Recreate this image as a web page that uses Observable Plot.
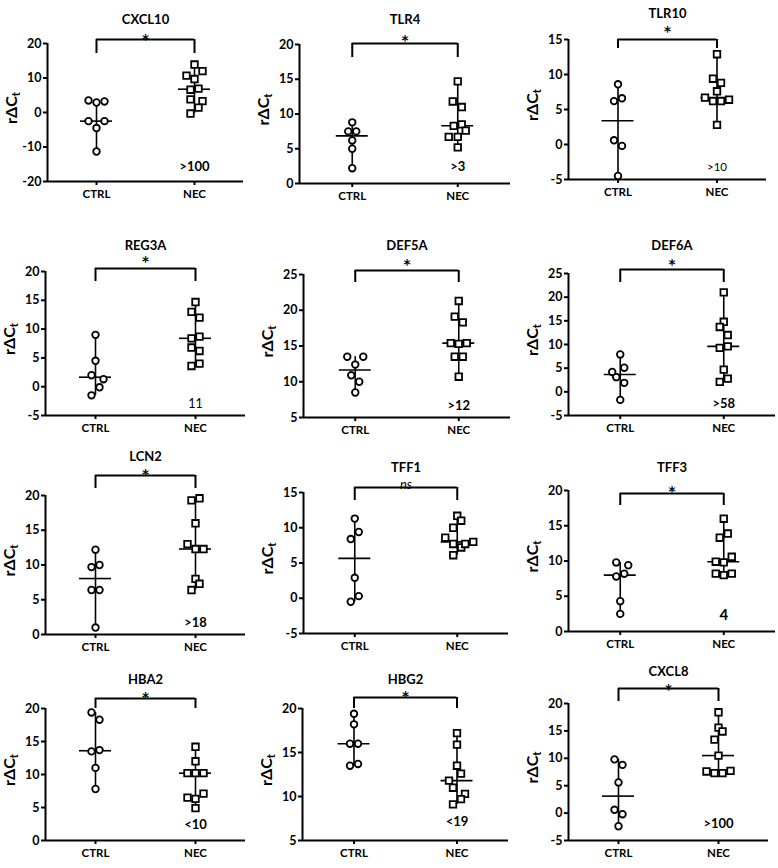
<!DOCTYPE html>
<html><head><meta charset="utf-8">
<script src="https://cdn.jsdelivr.net/npm/d3@7"></script>
<script src="https://cdn.jsdelivr.net/npm/@observablehq/plot@0.6"></script>
<style>
body{margin:0;background:#fff;}
#chart{position:relative;width:778px;height:868px;overflow:hidden;background:#fff;}
.panel{position:absolute;}
</style></head>
<body><div id="chart"></div>
<script>
// ---------- data ----------
const genes = ["CXCL10","TLR4","TLR10","REG3A","DEF5A","DEF6A","LCN2","TFF1","TFF3","HBA2","HBG2","CXCL8"];
const groups = ["CTRL","NEC"];
const ctrlValues = [
  [3.5,2.9,3.2,-2.5,-2.5,-4.5,-11.3],
  [8.8,7.5,7.5,6.2,5.0,2.2],
  [8.6,6.2,6.6,0.6,-0.2,-4.5],
  [9.0,4.5,2.0,1.3,-0.1,-1.5],
  [13.5,13.5,12.4,10.9,10.0,8.5],
  [7.9,4.2,5.1,3.1,1.9,-1.7],
  [12.2,9.7,10.0,6.4,6.4,1.0],
  [11.3,8.4,9.4,2.9,-0.5,0.3],
  [9.8,9.4,8.2,7.8,4.3,2.5],
  [19.4,18.3,13.5,13.7,11.0,7.8],
  [19.4,18.2,16.0,16.0,13.5,13.7],
  [9.8,8.8,5.6,0.6,-0.2,-2.4]
];
// horizontal scatter lane of each point (as drawn in the figure)
const ctrlJitter = [
  [-8,0,8,-8,8,0,0],
  [0,-4,4,0,0,0],
  [0,-4,4,-4,4,0],
  [0,0,-4,8,4,-4],
  [-8,8,0,-4,4,0],
  [0,-8,4,-4,4,0],
  [0,-4,4,-4,4,0],
  [0,-4,4,0,-4,4],
  [-4,8,4,-4,0,0],
  [-4,4,-4,4,0,0],
  [0,0,-4,4,-4,4],
  [-4,4,0,-4,4,0]
];
const necValues = [
  [13.9,10.7,12.0,9.7,6.6,6.9,3.8,3.3,1.4,-0.3],
  [14.7,11.8,11.0,8.3,8.5,7.6,6.7,6.7,5.2],
  [12.9,9.4,8.8,7.6,6.7,6.2,6.2,6.4,2.8],
  [14.7,13.0,12.0,8.4,8.7,6.8,6.2,3.6,4.0],
  [21.3,19.1,18.3,15.4,15.3,15.4,13.5,13.5,10.7],
  [21.0,14.8,13.7,12.0,9.3,9.6,4.7,2.1,2.8],
  [19.3,19.6,16.0,13.0,12.3,12.3,8.0,7.3,6.4],
  [11.7,11.0,10.0,8.6,7.7,7.2,7.7,8.0,6.1],
  [16.0,13.3,13.9,10.6,9.9,9.8,8.2,8.0,8.2],
  [14.2,12.0,10.2,10.2,10.2,7.1,6.5,6.3,4.9],
  [17.2,15.9,13.5,12.6,11.8,11.0,10.3,9.7,9.1],
  [18.4,15.6,14.9,13.4,10.5,7.6,7.3,7.3,7.7]
];
const necJitter = [
  [0,-8,8,0,-4,4,-4,8,4,-4],
  [0,-5,4,-4,4,8,-9,0,0],
  [0,-4,4,0,-12,-4,4,12,0],
  [0,-4,4,-4,4,-4,4,-4,4],
  [0,-4,4,-8,0,8,-4,4,0],
  [0,0,-4,4,-4,4,0,-4,4],
  [-4,4,0,-8,0,8,0,4,-4],
  [0,4,-4,-12,-4,4,8,16,-4],
  [0,-4,4,8,-8,0,-8,0,8],
  [0,0,-8,0,8,8,-8,0,0],
  [0,0,0,4,-8,-4,8,4,-4],
  [0,0,4,-4,0,-12,-4,4,12]
];
const sigLabels = ["*","*","*","*","*","*","*","ns","*","*","*","*"];
const foldLabels = [">100",">3",">10","11",">12",">58",">18","","4","<10","<19",">100"];
const yTicks = [
  [-20,-10,0,10,20],
  [0,5,10,15,20],
  [-5,0,5,10,15],
  [-5,0,5,10,15,20],
  [5,10,15,20,25],
  [-5,0,5,10,15,20,25],
  [0,5,10,15,20],
  [-5,0,5,10,15],
  [0,5,10,15,20],
  [0,5,10,15,20],
  [5,10,15,20],
  [-5,0,5,10,15,20]
];

// ---------- layout (page pixels) ----------
const layout = [
  {ox:0,  oy:0,  w:260, ax:47,  top:43,  bot:181, right:243, titleY:14,  brY:39,  leg:14, starY:32,  foldGap:11},
  {ox:260,oy:0,  w:258, ax:299, top:44,  bot:183, right:510, titleY:14,  brY:43,  leg:14, starY:33,  foldGap:13},
  {ox:518,oy:0,  w:260, ax:568, top:39,  bot:179, right:766, titleY:8,   brY:39,  leg:9,  starY:24,  foldGap:9},
  {ox:0,  oy:217,w:260, ax:45,  top:271, bot:415, right:245, titleY:240, brY:268, leg:13, starY:254, foldGap:8},
  {ox:260,oy:217,w:258, ax:303, top:274, bot:417, right:510, titleY:240, brY:270, leg:12, starY:257, foldGap:8},
  {ox:518,oy:217,w:260, ax:568, top:273, bot:415, right:775, titleY:240, brY:269, leg:13, starY:257, foldGap:8},
  {ox:0,  oy:434,w:260, ax:45,  top:495, bot:634, right:245, titleY:451, brY:475, leg:13, starY:467, foldGap:8},
  {ox:260,oy:434,w:258, ax:303, top:492, bot:633, right:508, titleY:462, brY:487, leg:13, starY:479, foldGap:8},
  {ox:518,oy:434,w:260, ax:568, top:490, bot:631, right:775, titleY:462, brY:493, leg:12, starY:484, foldGap:12},
  {ox:0,  oy:651,w:260, ax:45,  top:708, bot:840, right:245, titleY:674, brY:698, leg:10, starY:690, foldGap:12},
  {ox:260,oy:651,w:258, ax:302, top:708, bot:840, right:508, titleY:674, brY:697, leg:11, starY:689, foldGap:15},
  {ox:518,oy:651,w:260, ax:568, top:703, bot:840, right:768, titleY:666, brY:688, leg:13, starY:682, foldGap:13}
];
const foldStyle = {"11": {fontWeight: "normal", fontSize: 12.5}, ">10": {fontWeight: "normal", fontSize: 11.5}, "4": {fontWeight: "bold", fontSize: 15}};

const FONT = "Lato, 'Open Sans', 'DejaVu Sans', sans-serif";
const chart = document.getElementById("chart");

genes.forEach((gene, i) => {
  const L = layout[i];
  const H = 217;
  const ticks = yTicks[i];
  const ymin = ticks[0], ymax = ticks[ticks.length - 1];
  const mt = L.top - L.oy, mb = L.oy + H - L.bot, ml = L.ax - L.ox, mr = L.ox + L.w - L.right;
  const frameH = L.bot - L.top;

  const ctrl = ctrlValues[i].map((v, k) => ({g: 1, v, j: ctrlJitter[i][k]}));
  const nec = necValues[i].map((v, k) => ({g: 2, v, j: necJitter[i][k]}));
  const all = ctrl.concat(nec);
  const medians = [{g: 1, m: d3.median(ctrlValues[i])}, {g: 2, m: d3.median(necValues[i])}];
  const pxPerUnit = (L.right - L.ax) / 2;
  const jx = d => d.g + d.j / pxPerUnit;
  const half = 16 / pxPerUnit;

  const fold = foldLabels[i];
  const fs = foldStyle[fold] || {fontWeight: "bold", fontSize: 13};
  const sig = sigLabels[i];
  const sigMark = sig === "*"
    ? Plot.text([sig], {x: 1.5, frameAnchor: "top", dy: L.starY - L.top + 2, fontSize: 13.5, fontFamily: "'DejaVu Sans', sans-serif", fontWeight: "bold"})
    : Plot.text([sig], {x: 1.5, frameAnchor: "top", dy: L.starY - L.top, fontSize: 13, fontStyle: "italic", fontWeight: "normal"});

  const marks = [
    Plot.axisY(ticks, {tickSize: 4, tickPadding: 2, strokeWidth: 2, fontSize: 12.5, fontWeight: "bold", tickFormat: d => String(d), label: null}),
    Plot.axisX([1, 2], {tickSize: 4, tickPadding: 4, strokeWidth: 2, fontSize: 11.5, fontWeight: "bold", tickFormat: d => groups[d - 1], label: null}),
    Plot.ruleX([0.5], {strokeWidth: 2}),
    Plot.ruleY([ymin], {strokeWidth: 2}),
    // range whiskers
    Plot.ruleX(all, Plot.groupX({y1: "min", y2: "max"}, {x: "g", y: "v", strokeWidth: 1.6})),
    // median lines
    Plot.ruleY(medians, {y: "m", x1: d => d.g - half, x2: d => d.g + half, strokeWidth: 1.6}),
    Plot.dot(ctrl, {x: jx, y: "v", symbol: "circle", r: 3.3, fill: "white", stroke: "black", strokeWidth: 1.8}),
    Plot.dot(nec, {x: jx, y: "v", symbol: "square", r: 3.7, fill: "white", stroke: "black", strokeWidth: 1.8}),
    // significance bracket
    Plot.ruleY([ymax], {x1: 1, x2: 2, dy: L.brY - L.top, strokeWidth: 2}),
    Plot.ruleX([1, 2], {insetTop: L.brY - L.top, insetBottom: frameH - (L.brY - L.top) - L.leg, strokeWidth: 2}),
    sigMark,
    Plot.text([gene], {x: 1.5, frameAnchor: "top", dy: L.titleY - L.top, fontSize: 13, fontWeight: "bold"})
  ];
  if (fold) marks.push(Plot.text([fold], {x: 2, frameAnchor: "bottom", dy: -L.foldGap, fontSize: fs.fontSize, fontWeight: fs.fontWeight}));

  const svg = Plot.plot({
    width: L.w, height: H,
    marginTop: mt, marginBottom: mb, marginLeft: ml, marginRight: mr,
    x: {type: "linear", domain: [0.5, 2.5], axis: null},
    y: {domain: [ymin, ymax], axis: null},
    style: {fontFamily: FONT, color: "black", background: "white", overflow: "visible"},
    marks
  });

  // y-axis label rΔCt with subscript t
  const lab = d3.select(svg).append("text")
    .attr("transform", `translate(${ml - 34},${mt + frameH / 2 - 4}) rotate(-90)`)
    .attr("text-anchor", "middle")
    .attr("dominant-baseline", "middle")
    .attr("fill", "black")
    .style("font-family", FONT)
    .style("font-size", "16px")
    .style("font-weight", "bold");
  lab.append("tspan").text("r\u0394C");
  lab.append("tspan").attr("dy", 4).style("font-size", "11px").text("t");

  const div = document.createElement("div");
  div.className = "panel";
  div.style.left = L.ox + "px";
  div.style.top = L.oy + "px";
  div.appendChild(svg);
  chart.appendChild(div);
});
</script>
</body></html>
